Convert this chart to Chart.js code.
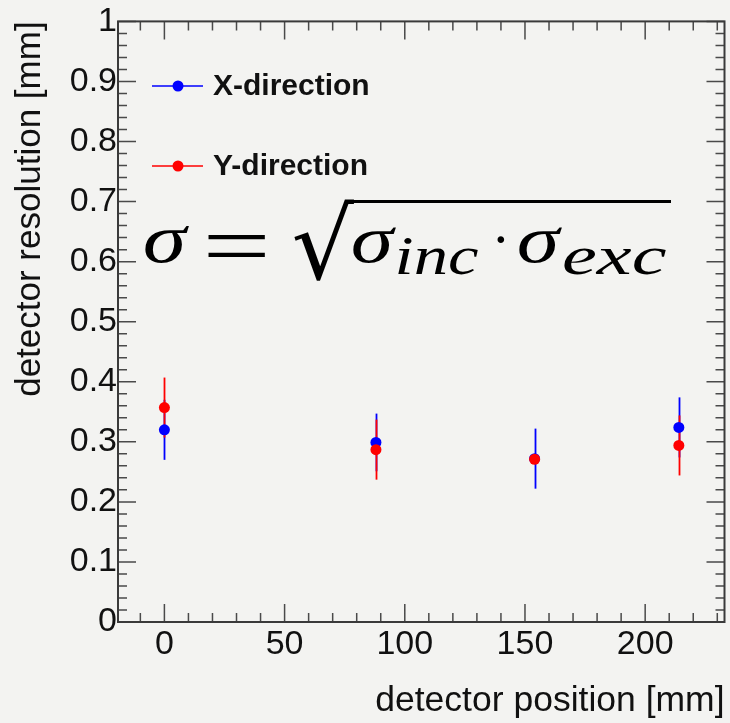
<!DOCTYPE html>
<html>
<head>
<meta charset="utf-8">
<script src="https://cdn.jsdelivr.net/npm/chart.js@4.4.0/dist/chart.umd.min.js"></script>
<style>
html, body { margin: 0; padding: 0; background: #f3f3f1; }
</style>
</head>
<body>
<canvas id="myChart" width="730" height="723"></canvas>
<script>
// detector positions [mm] and measured resolutions [mm]
var positions = [0, 88, 154, 214];
var xDirRes = [0.320, 0.299, 0.272, 0.324];
var xDirErr = [0.050, 0.048, 0.050, 0.050];
var yDirRes = [0.357, 0.287, 0.271, 0.294];
var yDirErr = [0.050, 0.050, 0.000, 0.050];

var xTickValues = [0, 50, 100, 150, 200];
var yTickValues = [0, 0.1, 0.2, 0.3, 0.4, 0.5, 0.6, 0.7, 0.8, 0.9, 1];
var seriesNames = ['X-direction', 'Y-direction'];
var seriesColors = ['#0000ff', '#ff0000'];

var axisFont = 'Liberation Sans';
var ctx = document.getElementById('myChart').getContext('2d');

function toPoints(vals) {
    return positions.map(function (p, i) { return { x: p, y: vals[i] }; });
}

// vertical error bars, drawn under the markers
var errorBars = {
    id: 'errorBars',
    beforeDatasetsDraw: function (chart) {
        var c = chart.ctx, xs = chart.scales.x, ys = chart.scales.y;
        // blue first, red on top
        [1, 0].forEach(function (di) {
            var ds = chart.data.datasets[di];
            c.save();
            c.strokeStyle = ds.backgroundColor;
            c.lineWidth = 1.8;
            ds.data.forEach(function (pt, j) {
                var e = ds.errors[j];
                if (!e) return;
                var px = Math.round(xs.getPixelForValue(pt.x)) + 0.5;
                c.beginPath();
                c.moveTo(px, ys.getPixelForValue(pt.y - e));
                c.lineTo(px, ys.getPixelForValue(pt.y + e));
                c.stroke();
            });
            c.restore();
        });
    }
};

// ROOT style frame with inward ticks on all four sides
var frameTicks = {
    id: 'frameTicks',
    afterDatasetsDraw: function (chart) {
        var c = chart.ctx, a = chart.chartArea, xs = chart.scales.x, ys = chart.scales.y;
        c.save();
        c.strokeStyle = '#4a4a4a';
        c.lineWidth = 1.5;
        c.beginPath();
        for (var v = -10; v <= 230; v += 10) {
            var px = xs.getPixelForValue(v);
            var len = (v % 50 === 0) ? 18 : 9;
            c.moveTo(px, a.bottom); c.lineTo(px, a.bottom - len);
            c.moveTo(px, a.top); c.lineTo(px, a.top + len);
        }
        for (var k = 0; k <= 50; k++) {
            var py = ys.getPixelForValue(k * 0.02);
            var l2 = (k % 5 === 0) ? 18 : 9;
            c.moveTo(a.left, py); c.lineTo(a.left + l2, py);
            c.moveTo(a.right, py); c.lineTo(a.right - l2, py);
        }
        c.stroke();
        c.strokeStyle = '#3a3a3a';
        c.lineWidth = 2;
        c.strokeRect(a.left, a.top, a.right - a.left, a.bottom - a.top);
        c.restore();
    }
};

// draw text so that its ink box fills the given box
function fitText(c, text, font, x0, y0, x1, y1) {
    c.save();
    c.font = font;
    c.textAlign = 'left';
    c.textBaseline = 'alphabetic';
    var m = c.measureText(text);
    var w = m.actualBoundingBoxLeft + m.actualBoundingBoxRight;
    var h = m.actualBoundingBoxAscent + m.actualBoundingBoxDescent;
    var sy = (y1 - y0) / h;
    var sx = (x1 == null) ? sy : (x1 - x0) / w;
    c.translate(x0, y0);
    c.scale(sx, sy);
    c.fillText(text, m.actualBoundingBoxLeft, m.actualBoundingBoxAscent);
    c.restore();
}

// legend and the formula
var annotations = {
    id: 'annotations',
    afterDraw: function (chart) {
        var c = chart.ctx;
        c.save();
        [86, 166].forEach(function (ly, i) {
            c.strokeStyle = seriesColors[i];
            c.lineWidth = 1.3;
            c.beginPath();
            c.moveTo(152, ly); c.lineTo(203, ly);
            c.stroke();
            c.fillStyle = seriesColors[i];
            c.beginPath();
            c.arc(178, ly, 5.5, 0, Math.PI * 2);
            c.fill();
            c.fillStyle = '#111';
            c.font = 'bold 30px "' + axisFont + '"';
            c.textBaseline = 'middle';
            c.fillText(seriesNames[i], 213, ly + 1);
        });

        c.fillStyle = '#000';
        var it = 'italic 80px "Liberation Serif"';
        fitText(c, 'σ', it, 145, 226, 189, 263);
        fitText(c, '=', '80px "Liberation Serif"', 207, 233, 266, 256);
        fitText(c, '√', '80px "DejaVu Sans"', 294, 199, 354, 281);
        c.strokeStyle = '#000';
        c.lineWidth = 3;
        c.beginPath();
        c.moveTo(350, 201.5); c.lineTo(671, 201.5);
        c.stroke();
        fitText(c, 'σ', it, 353, 227, 396, 263);
        fitText(c, 'inc', it, 398, 237, 478, 275);
        fitText(c, '·', '80px "Liberation Serif"', 497, 237, null, 244);
        fitText(c, 'σ', it, 519, 227, 562, 263);
        fitText(c, 'exc', it, 564, 248, 666, 275);
        c.restore();
    }
};

var myChart = new Chart(ctx, {
    type: 'scatter',
    data: {
        datasets: [
            {
                label: seriesNames[1],
                data: toPoints(yDirRes),
                errors: yDirErr,
                backgroundColor: seriesColors[1],
                borderWidth: 0,
                pointRadius: 5.5,
                order: 0
            },
            {
                label: seriesNames[0],
                data: toPoints(xDirRes),
                errors: xDirErr,
                backgroundColor: seriesColors[0],
                borderWidth: 0,
                pointRadius: 5.5,
                order: 1
            }
        ]
    },
    options: {
        responsive: false,
        animation: false,
        layout: { padding: { top: 20, right: 0 } },
        plugins: {
            legend: { display: false },
            tooltip: { enabled: false }
        },
        scales: {
            x: {
                type: 'linear',
                min: -19.3,
                max: 233,
                grid: { display: false, drawTicks: false },
                border: { display: false },
                afterBuildTicks: function (s) { s.ticks = xTickValues.map(function (v) { return { value: v }; }); },
                afterFit: function (s) { s.height = 101; },
                ticks: {
                    font: { family: axisFont, size: 34 },
                    color: '#111',
                    padding: 2,
                    maxRotation: 0,
                    autoSkip: false
                },
                title: {
                    display: true,
                    text: 'detector position [mm]',
                    align: 'end',
                    color: '#111',
                    font: { family: axisFont, size: 35.5 },
                    padding: { top: 0, bottom: 0 }
                }
            },
            y: {
                min: 0,
                max: 1,
                grid: { display: false, drawTicks: false },
                border: { display: false },
                afterBuildTicks: function (s) { s.ticks = yTickValues.map(function (v) { return { value: v }; }); },
                afterFit: function (s) { s.width = 118; },
                ticks: {
                    font: { family: axisFont, size: 34 },
                    color: '#111',
                    padding: 1,
                    autoSkip: false,
                    callback: function (v) { return (v === 0 || v === 1) ? String(v) : v.toFixed(1); }
                },
                title: {
                    display: true,
                    text: 'detector resolution [mm]',
                    align: 'end',
                    color: '#111',
                    font: { family: axisFont, size: 35 },
                    padding: { top: 9, bottom: 0 }
                }
            }
        }
    },
    plugins: [errorBars, frameTicks, annotations]
});
</script>
</body>
</html>
